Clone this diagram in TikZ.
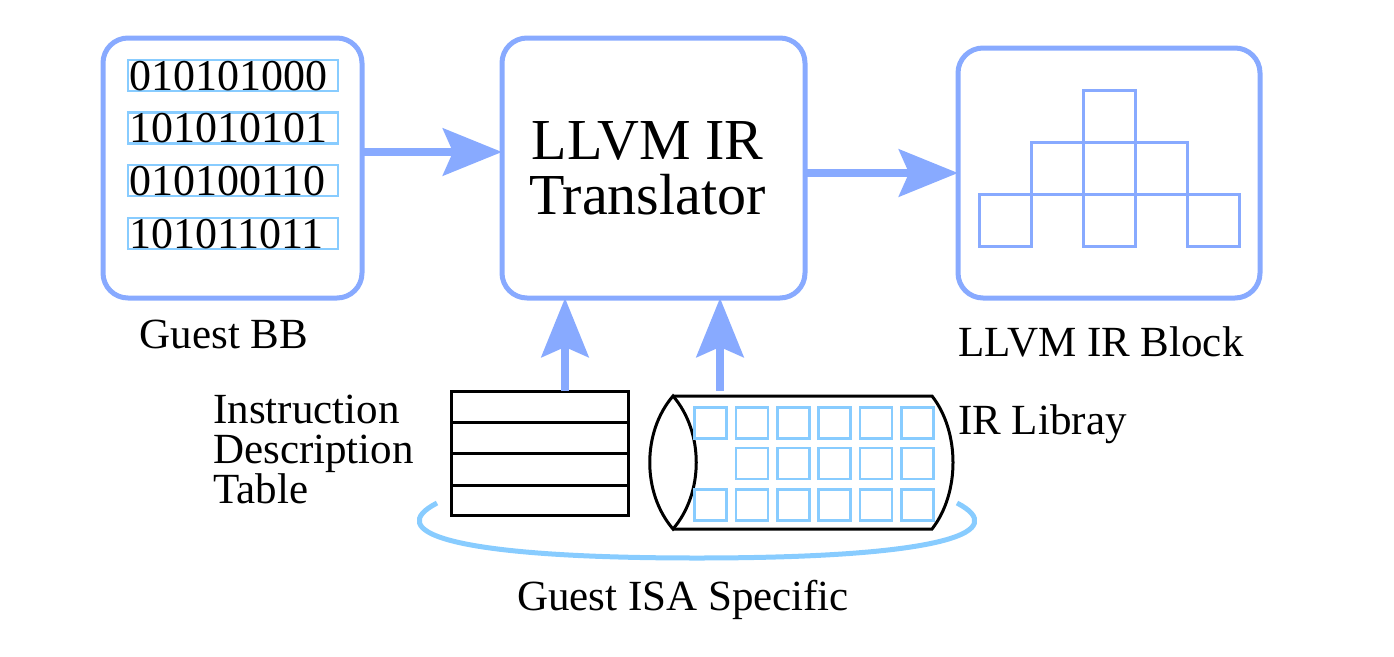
\documentclass[tikz,border=0pt]{standalone}
\usepackage{fontspec}
\setmainfont{Liberation Serif}
\usetikzlibrary{arrows.meta,calc}
\definecolor{boxblue}{RGB}{136,170,255}
\definecolor{lightblue}{RGB}{136,204,255}
\begin{document}
\begin{tikzpicture}[x=1pt,y=-1pt,
  bigbox/.style={draw=boxblue, line width=5pt, rounded corners=25pt, outer sep=0pt, inner sep=0pt},
  binrow/.style={draw=lightblue, line width=2.5pt, inner xsep=1pt, inner ysep=0pt, text width=208pt, align=left, text height=30pt, text depth=1pt, font=\fontsize{44}{44}\selectfont},
  flow/.style={draw=boxblue, line width=8pt, -{Stealth[length=59pt,width=47pt,inset=10pt]}},
  lbl/.style={font=\fontsize{43}{40}\selectfont, inner sep=0pt},
  blk/.style={draw=black, line width=3pt},
  sq/.style={draw=lightblue, line width=2.5pt},
  pyr/.style={draw=boxblue, line width=3pt}]
\useasboundingbox (0,0) rectangle (1394,656);

% main boxes
\node[bigbox, minimum width=259pt, minimum height=260pt] (bb) at (232.5,168) {};
\node[bigbox, minimum width=303pt, minimum height=260pt] (tr) at (653.5,168) {};
\node[bigbox, minimum width=302pt, minimum height=250pt] (blk) at (1109,173) {};
\node[font=\fontsize{58}{55}\selectfont, align=center, inner sep=0pt] (trtext) at ([xshift=-6pt]tr.center) {LLVM IR\\Translator};

% binary rows
\node[binrow] (r1) at (233,75.5) {010101000};
\node[binrow] (r2) at (233,128) {101010101};
\node[binrow] (r3) at (233,180.5) {010100110};
\node[binrow] (r4) at (233,233.5) {101011011};

% pyramid
\foreach \cx/\cy in {1109.5/116, 1057.5/168, 1109.5/168, 1161.5/168, 1005.5/220, 1109.5/220, 1213.5/220}
  \draw[pyr] (\cx-26,\cy-26) rectangle (\cx+26,\cy+26);

% table
\node[blk, minimum width=177pt, minimum height=124pt, outer sep=0pt, inner sep=0pt] (tab) at (539.5,453) {};
\foreach \yy in {422,453,485}
  \draw[blk] (tab.west |- 0,\yy) -- (tab.east |- 0,\yy);

% cylinder (lens-shaped ends)
\draw[blk, line join=miter] (673,396) .. controls (642,432) and (642,493) .. (673,529)
      .. controls (704,493) and (704,432) .. (673,396) -- cycle;
\draw[blk, line join=miter] (673,396) -- (932,396) .. controls (960,432) and (960,493) .. (932,529) -- (673,529);
\foreach \i in {0,...,5} {
  \draw[sq] (710.5+41.4*\i-16,423-15.5) rectangle (710.5+41.4*\i+16,423+15.5);
  \draw[sq] (710.5+41.4*\i-16,505-15.5) rectangle (710.5+41.4*\i+16,505+15.5);
}
\foreach \i in {1,...,5}
  \draw[sq] (710.5+41.4*\i-16,463.5-15.5) rectangle (710.5+41.4*\i+16,463.5+15.5);
\coordinate (libtop) at (720,391);

% arrows
\draw[flow] ([yshift=16pt]bb.east) -- ([yshift=16pt]bb.east -| tr.west);
\draw[flow] (tr.east |- blk.west) -- (blk.west);
\draw[flow] ([xshift=25.5pt]tab.north) -- ([xshift=25.5pt]tab.north |- tr.south);
\draw[flow] (libtop) -- (libtop |- tr.south);

% group arc
\draw[draw=lightblue, line width=5pt] (437,503) .. controls (385,530) and (440,558) .. (697,558) .. controls (954,558) and (1009,530) .. (957,503);

% labels
\node[lbl, anchor=base] (gbb) at (224,348) {Guest BB};
\node[lbl, anchor=base] (lblk) at (1101,356) {LLVM IR Block};
\node[lbl, anchor=north west, align=left] (idt) at (213,395) {Instruction\\Description\\Table};
\node[lbl, anchor=base west] (irl) at (958,434) {IR Libray};
\node[lbl, anchor=base] (gisa) at (683,610) {Guest ISA Specific};
\end{tikzpicture}
\end{document}
